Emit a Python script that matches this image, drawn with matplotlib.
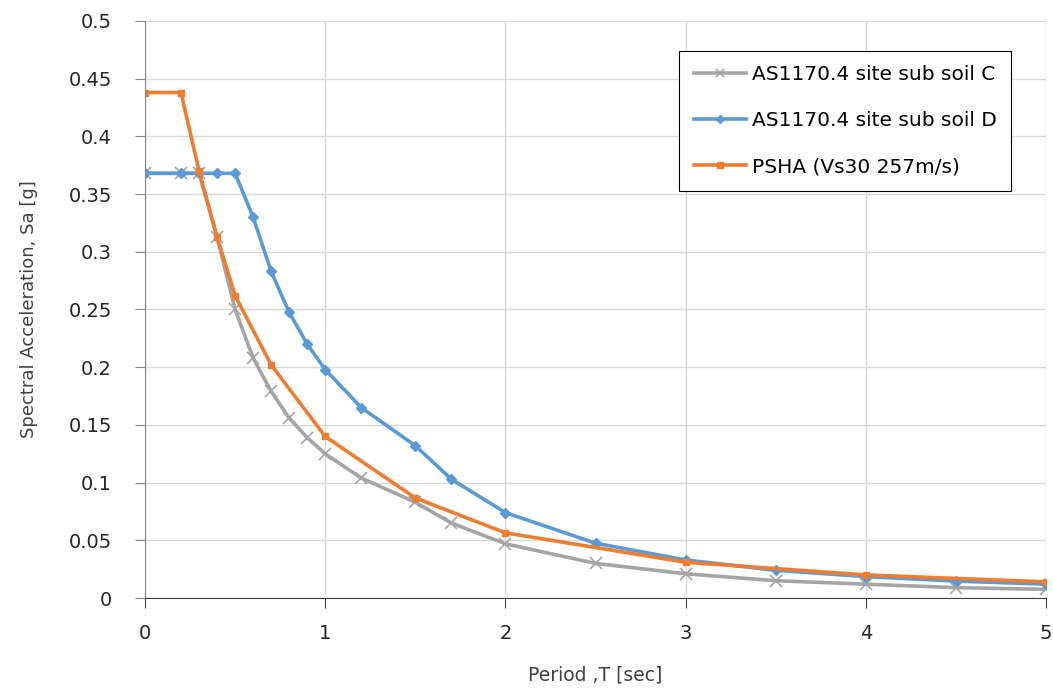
import matplotlib.pyplot as plt

plt.rcParams['font.family'] = ['DejaVu Sans']

# Soil class C (AS1170.4)
t_c = [0, 0.2, 0.3, 0.4, 0.5, 0.6, 0.7, 0.8, 0.9, 1.0, 1.2, 1.5, 1.7, 2.0, 2.5, 3.0, 3.5, 4.0, 4.5, 5.0]
sa_c = [0.368, 0.368, 0.368, 0.3125, 0.25, 0.208, 0.179, 0.156, 0.139, 0.125, 0.104, 0.083,
        0.065, 0.047, 0.030, 0.021, 0.015, 0.012, 0.009, 0.0075]

# Soil class D (AS1170.4)
t_d = [0, 0.2, 0.3, 0.4, 0.5, 0.6, 0.7, 0.8, 0.9, 1.0, 1.2, 1.5, 1.7, 2.0, 2.5, 3.0, 3.5, 4.0, 4.5, 5.0]
sa_d = [0.368, 0.368, 0.368, 0.368, 0.368, 0.33, 0.283, 0.2475, 0.22, 0.198, 0.165, 0.132,
        0.103, 0.074, 0.0475, 0.033, 0.024, 0.0186, 0.0147, 0.012]

# PSHA
t_p = [0, 0.2, 0.3, 0.4, 0.5, 0.7, 1.0, 1.5, 2.0, 3.0, 4.0, 5.0]
sa_p = [0.438, 0.438, 0.37, 0.313, 0.262, 0.202, 0.14, 0.0867, 0.0565, 0.031, 0.020, 0.014]

fig = plt.figure(figsize=(10.53, 6.9), dpi=100)
ax = fig.add_axes([0.1377, 0.1333, 0.8557, 0.8363])

ax.plot(t_c, sa_c, color='#A5A5A5', lw=2.6, marker='x', ms=8, mew=1.2,
        label='AS1170.4 site sub soil C')
ax.plot(t_d, sa_d, color='#5B9BD5', lw=2.6, marker='D', ms=5.5,
        label='AS1170.4 site sub soil D')
ax.plot(t_p, sa_p, color='#ED7D31', lw=2.6, marker='s', ms=5,
        label='PSHA (Vs30 257m/s)')

ax.set_xlim(0, 5)
ax.set_ylim(0, 0.5)
ax.set_xticks([0, 1, 2, 3, 4, 5])
ax.set_yticks([0, 0.05, 0.1, 0.15, 0.2, 0.25, 0.3, 0.35, 0.4, 0.45, 0.5])
ax.set_yticklabels(['0', '0.05', '0.1', '0.15', '0.2', '0.25', '0.3', '0.35', '0.4', '0.45', '0.5'])
ax.grid(True, color='#D9D9D9', lw=1)
ax.set_axisbelow(True)
for s in ['top', 'right']:
    ax.spines[s].set_visible(False)
ax.spines['left'].set_color('#868686')
ax.spines['bottom'].set_color('#404040')
ax.tick_params(axis='y', length=7, color='#868686', labelsize=14, pad=17, labelcolor='#262626')
ax.tick_params(axis='x', length=7, color='#404040', labelsize=14, pad=12, labelcolor='#262626')

ax.set_xlabel('Period ,T [sec]', fontsize=13.5, color='#404040', labelpad=16)
ax.set_ylabel('Spectral Acceleration, Sa [g]', fontsize=13, color='#404040', labelpad=22)

leg = ax.legend(loc='upper right', bbox_to_anchor=(0.961, 0.948), fontsize=14.5,
                fancybox=False, framealpha=1, edgecolor='black', handlelength=2.6,
                borderpad=0.7, labelspacing=1.35, handletextpad=0.3, markerscale=0.8,
                borderaxespad=0)
leg.get_frame().set_linewidth(0.8)

fig.savefig('out.png', dpi=100)
